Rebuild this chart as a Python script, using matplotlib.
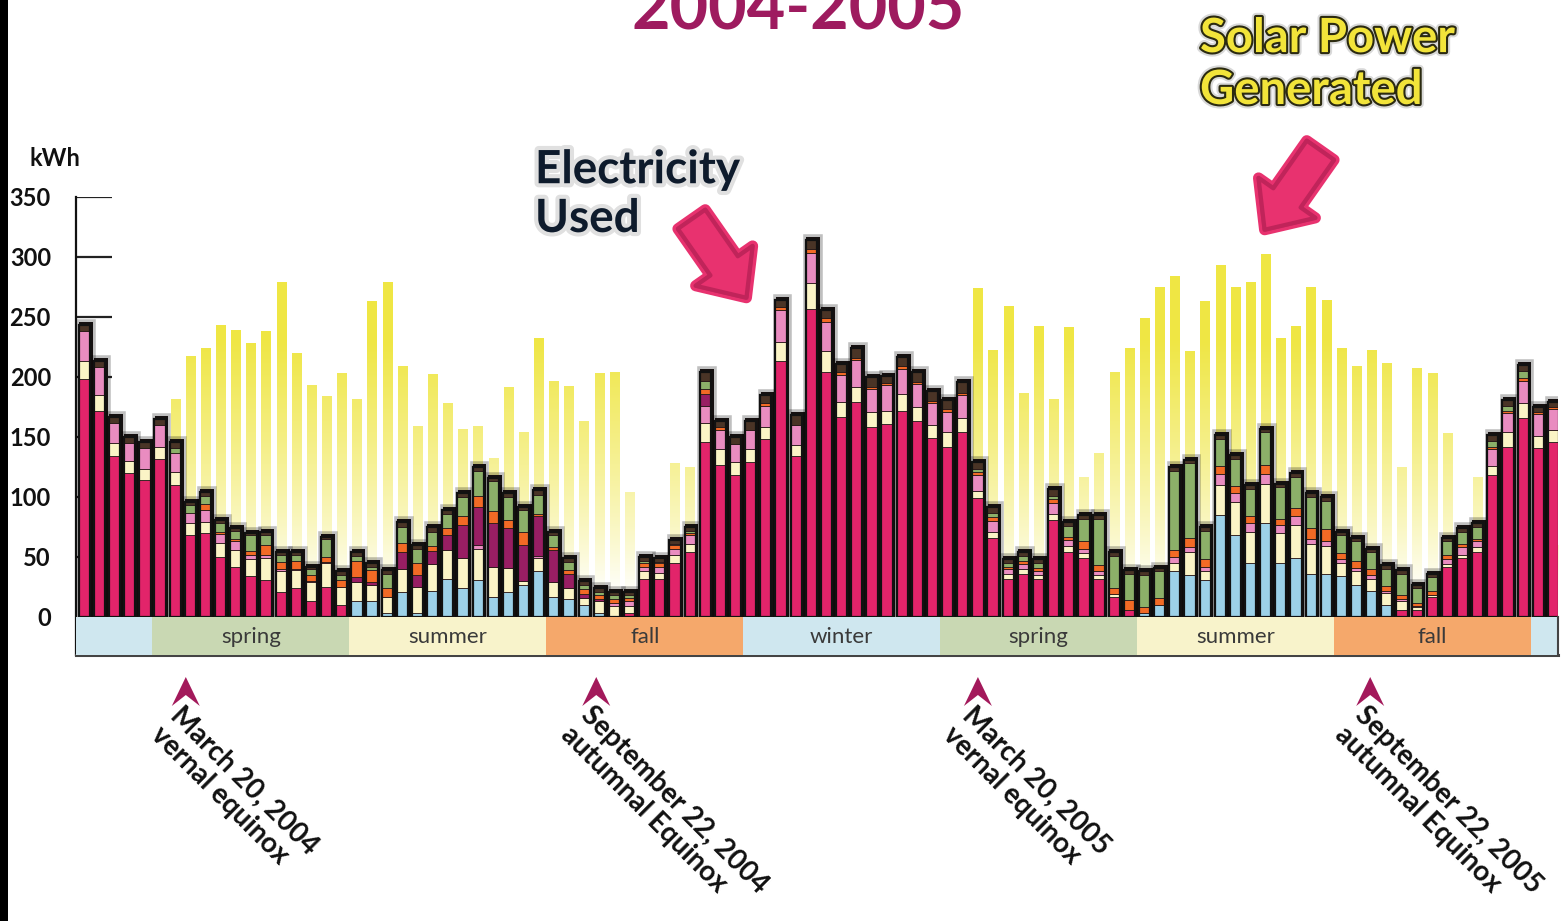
import numpy as np
import matplotlib
matplotlib.use("Agg")
import matplotlib.pyplot as plt
from matplotlib.patches import Rectangle, Polygon, FancyArrowPatch
import matplotlib.patheffects as pe

W, H = 1562, 921
FONT = ["Lato", "DejaVu Sans"]
plt.rcParams["font.family"] = FONT

# ---- weekly data (kWh), January 2004 - December 2005 ----
solar = [120, 130, 125, 128, 126, 135, 181, 217, 224, 243, 239, 228, 238, 279, 220, 193, 184, 203, 181, 263,
         279, 209, 159, 202, 178, 156, 159, 132, 191, 154, 232, 196, 192, 163, 203, 204, 104, 45, 45, 128,
         125, 110, 100, 95, 90, 100, 120, 100, 130, 140, 120, 135, 125, 140, 130, 150, 140, 160, 170, 274,
         222, 259, 186, 242, 181, 241, 116, 136, 204, 224, 249, 275, 284, 221, 263, 293, 275, 279, 302, 232,
         242, 275, 264, 224, 209, 222, 211, 125, 207, 203, 153, 60, 116, 100, 90, 80, 70, 60]

heating = [198, 172, 134, 120, 114, 132, 110, 68, 70, 50, 42, 34, 31, 21, 24, 13, 25, 10, 0, 0,
           0, 0, 0, 0, 0, 0, 0, 0, 0, 0, 0, 0, 0, 0, 0, 0, 3, 32, 32, 45,
           54, 146, 127, 118, 129, 148, 213, 134, 257, 204, 167, 179, 158, 161, 172, 163, 149, 142, 154, 99,
           66, 32, 36, 32, 81, 54, 49, 32, 17, 6, 0, 0, 0, 0, 0, 0, 0, 0, 0, 0,
           0, 0, 0, 0, 0, 0, 0, 6, 6, 17, 42, 49, 54, 118, 142, 166, 141, 146]

cooling = [0, 0, 0, 0, 0, 0, 0, 0, 0, 0, 0, 0, 0, 0, 0, 0, 0, 0, 13, 13,
           3, 21, 3, 22, 32, 24, 31, 17, 21, 27, 38, 17, 15, 10, 3, 0, 0, 0, 0, 0,
           0, 0, 0, 0, 0, 0, 0, 0, 0, 0, 0, 0, 0, 0, 0, 0, 0, 0, 0, 0,
           0, 0, 0, 0, 0, 0, 0, 0, 0, 0, 3, 10, 38, 35, 31, 85, 68, 45, 78, 45,
           49, 36, 36, 34, 27, 22, 10, 0, 0, 0, 0, 0, 0, 0, 0, 0, 0, 0]

cream = [15, 13, 11, 10, 9, 10, 11, 10, 9, 12, 14, 14, 18, 17, 15, 16, 20, 15, 16, 14,
         14, 19, 22, 22, 24, 25, 26, 25, 20, 3, 11, 12, 9, 6, 10, 9, 6, 6, 5, 7,
         7, 16, 13, 11, 11, 10, 16, 9, 21, 18, 12, 13, 13, 11, 14, 12, 11, 12, 12, 6,
         5, 4, 4, 3, 5, 5, 4, 3, 2, 0, 0, 0, 7, 19, 7, 25, 28, 26, 33, 25,
         28, 25, 23, 11, 11, 10, 10, 7, 2, 1, 2, 3, 4, 8, 12, 12, 10, 10]

pink = [25, 23, 17, 15, 18, 18, 16, 9, 10, 7, 7, 4, 3, 2, 1, 1, 1, 0, 0, 0,
        0, 0, 0, 0, 0, 0, 3, 0, 0, 0, 2, 0, 0, 0, 0, 3, 4, 4, 5, 5,
        7, 14, 16, 15, 16, 18, 27, 17, 25, 24, 23, 22, 19, 21, 21, 19, 18, 17, 19, 13,
        9, 4, 4, 3, 9, 5, 4, 3, 0, 0, 0, 0, 5, 4, 4, 9, 7, 7, 8, 7,
        7, 4, 4, 3, 3, 3, 2, 2, 1, 0, 4, 6, 5, 14, 16, 19, 18, 17]

purple = [0, 0, 0, 0, 0, 0, 0, 0, 0, 0, 0, 0, 0, 0, 0, 0, 0, 0, 4, 2,
          0, 14, 10, 11, 12, 28, 32, 36, 33, 30, 33, 27, 12, 3, 2, 0, 0, 0, 0, 0,
          0, 10, 0, 0, 0, 0, 0, 0, 0, 0, 0, 0, 0, 0, 0, 0, 0, 0, 0, 0,
          0, 0, 0, 0, 0, 0, 0, 0, 0, 0, 0, 0, 0, 0, 0, 0, 0, 0, 0, 0,
          0, 0, 0, 0, 0, 0, 0, 0, 0, 0, 0, 0, 0, 0, 0, 0, 0, 0]

orange = [0, 0, 0, 0, 0, 0, 0, 0, 5, 2, 2, 3, 8, 6, 7, 5, 4, 6, 14, 10,
          7, 8, 10, 4, 6, 7, 9, 10, 7, 11, 2, 2, 3, 4, 3, 3, 3, 3, 3, 3,
          2, 4, 2, 0, 0, 2, 2, 0, 4, 3, 2, 2, 2, 2, 2, 2, 2, 2, 2, 3,
          3, 2, 3, 3, 3, 3, 6, 5, 5, 8, 5, 6, 6, 8, 6, 7, 6, 6, 8, 5,
          7, 9, 10, 5, 6, 5, 4, 3, 3, 4, 4, 3, 2, 2, 2, 2, 2, 2]

green = [0, 0, 0, 0, 0, 0, 4, 6, 7, 7, 7, 13, 8, 6, 5, 5, 15, 4, 4, 3,
         12, 13, 12, 12, 12, 16, 21, 25, 19, 18, 16, 10, 7, 4, 3, 3, 2, 2, 1, 1,
         2, 7, 0, 0, 0, 0, 0, 0, 0, 0, 0, 0, 0, 0, 0, 0, 0, 0, 0, 2,
         4, 3, 4, 4, 3, 9, 19, 39, 27, 22, 27, 22, 66, 62, 24, 22, 23, 23, 27, 26,
         26, 26, 24, 15, 16, 14, 14, 18, 12, 11, 11, 10, 10, 5, 4, 6, 0, 0]

other = [5, 5, 5, 5, 5, 5, 5, 3, 3, 3, 2, 2, 3, 2, 2, 2, 2, 3, 3, 3,
         3, 4, 3, 4, 3, 3, 3, 3, 3, 3, 4, 3, 3, 3, 3, 3, 3, 3, 3, 3,
         3, 7, 5, 6, 7, 7, 6, 8, 7, 7, 7, 8, 8, 6, 8, 8, 8, 8, 9, 6,
         5, 3, 3, 3, 6, 3, 3, 3, 3, 3, 3, 3, 3, 3, 3, 4, 3, 3, 3, 3,
         3, 3, 3, 3, 3, 3, 3, 3, 3, 3, 3, 3, 3, 5, 5, 5, 4, 4]

seasons = ["winter", "spring", "summer", "fall", "winter", "spring", "summer", "fall", "winter"]
season_start_week = [0, 4.5, 17.5, 30.5, 43.5, 56.5, 69.5, 82.5, 95.5]
y_ticks = [0, 50, 100, 150, 200, 250, 300, 350]

equinox_week = [6.7, 33.8, 59.0, 84.9]
equinox_text = ["March 20, 2004\nvernal equinox",
                "September 22, 2004\nautumnal Equinox",
                "March 20, 2005\nvernal equinox",
                "September 22, 2005\nautumnal Equinox"]

# ---- colours ----
stack = [(heating, "#E2246A"), (cooling, "#9DD1E8"), (cream, "#FBF4C6"), (pink, "#E98CC0"),
         (purple, "#981E63"), (orange, "#F26A25"), (green, "#8CB069"), (other, "#4A3426")]
season_colors = {"winter": "#CFE7EF", "spring": "#C9D8B3", "summer": "#F8F3CB", "fall": "#F5A86B"}

n = len(heating)
x = np.arange(n)
total = np.sum([np.array(v, dtype=float) for v, _ in stack], axis=0)

fig = plt.figure(figsize=(W / 100, H / 100), dpi=100)
fig.patch.set_facecolor("white")
ax = fig.add_axes([76 / W, (H - 655) / H, (1558 - 76) / W, 458 / H])
X0, X1 = -0.55, 97.3
Y0, Y1 = -31.7, 350


def fp(px, py):
    """pixel position (from top-left) -> figure fraction"""
    return px / W, 1 - py / H


# solar bars: yellow that fades toward white near the baseline
yw = 0.62
yellow = np.array([0.94, 0.905, 0.27])
for xi, h in zip(x, solar):
    if h <= 0:
        continue
    ys = np.linspace(0, h, 160)
    alpha = np.clip((ys - 20) / 210.0, 0.03, 1.0) ** 0.85
    img = np.zeros((len(ys), 1, 4))
    img[:, 0, :3] = yellow
    img[:, 0, 3] = alpha
    ax.imshow(img, extent=(xi - yw / 2, xi + yw / 2, 0, h), origin="lower",
              aspect="auto", interpolation="bilinear", zorder=1)

# tick marks drawn inside the plot, behind the bars
ax.hlines(y_ticks[1:], X0, 1.85, color="#222222", lw=1.6, zorder=0.5)

# electricity bars: dark halo, stacked segments, outline
ew = 0.74
halo = ax.bar(x + 0.1, total + 2.5, width=ew + 0.16, color="#151010", zorder=2, linewidth=0)
for b in halo:
    b.set_path_effects([pe.Stroke(linewidth=4, foreground="#000000", alpha=0.25), pe.Normal()])
bottom = np.zeros(n)
for vals, col in stack:
    v = np.array(vals, dtype=float)
    ax.bar(x, v, width=ew, bottom=bottom, color=col, edgecolor="#2a1a1a", linewidth=0.6, zorder=3)
    bottom += v
ax.bar(x, total, width=ew, fill=False, edgecolor="#111111", linewidth=1.6, zorder=4)

# season band beneath the bars
edges = season_start_week + [X1]
edges[0] = X0
for i, name in enumerate(seasons):
    ax.add_patch(Rectangle((edges[i], Y0), edges[i + 1] - edges[i], -Y0,
                           facecolor=season_colors[name], edgecolor="none", zorder=5))
    if 0 < i < len(seasons) - 1:
        ax.text((edges[i] + edges[i + 1]) / 2, Y0 / 2 - 1, name, ha="center", va="center",
                fontsize=16, color="#3a3a3a", zorder=6)
ax.plot([X1, X1], [Y0, 0], color="#444444", lw=1.5, zorder=6, clip_on=False)

ax.set_xlim(X0, X1)
ax.set_ylim(Y0, Y1)
ax.set_yticks(y_ticks)
ax.set_yticklabels([str(t) for t in y_ticks], fontsize=17, fontweight="bold", color="#111111")
ax.tick_params(axis="y", length=0, pad=18)
ax.set_xticks([])
for s in ["top", "right"]:
    ax.spines[s].set_visible(False)
ax.spines["left"].set_linewidth(1.6)
ax.spines["left"].set_color("#111111")
ax.spines["bottom"].set_linewidth(2.2)
ax.spines["bottom"].set_color("#444444")
ax.set_facecolor("none")

# unit label
fig.text(*fp(30, 166), "kWh", fontsize=17, fontweight="bold", color="#111111", ha="left", va="baseline")

# headings
fig.text(*fp(798, 30), "2004-2005", fontsize=48, fontweight="bold", color="#9E1B5F",
         ha="center", va="baseline")
sp = fig.text(*fp(1200, 104), "Solar Power\nGenerated", fontsize=34, fontweight="bold",
              color="#F2E43A", ha="left", va="baseline", linespacing=1.22)
sp.set_path_effects([pe.Stroke(linewidth=6, foreground="#000000", alpha=0.15),
                     pe.Stroke(linewidth=3, foreground="#2b2a10"), pe.Normal()])
eu = fig.text(*fp(535, 232), "Electricity\nUsed", fontsize=33, fontweight="bold",
              color="#0E1B2C", ha="left", va="baseline", linespacing=1.2)
eu.set_path_effects([pe.Stroke(linewidth=6, foreground="#000000", alpha=0.12), pe.Normal()])

# pointer arrows
for a, b in [((690, 217), (748, 300)), ((1322, 148), (1263, 232))]:
    arr = FancyArrowPatch(fp(*a), fp(*b), transform=fig.transFigure,
                          arrowstyle="simple,head_length=28,head_width=50,tail_width=24",
                          mutation_scale=1, facecolor="#E8326F", edgecolor="#C0245A",
                          linewidth=3, joinstyle="round", capstyle="round")
    arr.set_path_effects([pe.Stroke(linewidth=8, foreground="#E8326F", joinstyle="round"),
                          pe.Stroke(linewidth=3, foreground="#C62A60", joinstyle="round"),
                          pe.Normal()])
    fig.patches.append(arr)

# equinox markers
fig.canvas.draw()
for wk, label in zip(equinox_week, equinox_text):
    cx = ax.transData.transform((wk, 0))[0]
    tip = 677
    verts = [fp(cx, tip), fp(cx + 14, tip + 29), fp(cx, tip + 18), fp(cx - 14, tip + 29)]
    fig.patches.append(Polygon(verts, closed=True, transform=fig.transFigure,
                               facecolor="#A3195B", edgecolor="none"))
    fig.text(*fp(cx - 2, tip + 25), label, rotation=-45, rotation_mode="anchor",
             ha="left", va="top", fontsize=20, fontweight="bold", color="#111111",
             linespacing=1.1)

# dark strip along the left edge
fig.patches.append(Rectangle((0, 0), 8 / W, 1, transform=fig.transFigure,
                             facecolor="black", edgecolor="none"))

fig.savefig("out.png", dpi=100)
